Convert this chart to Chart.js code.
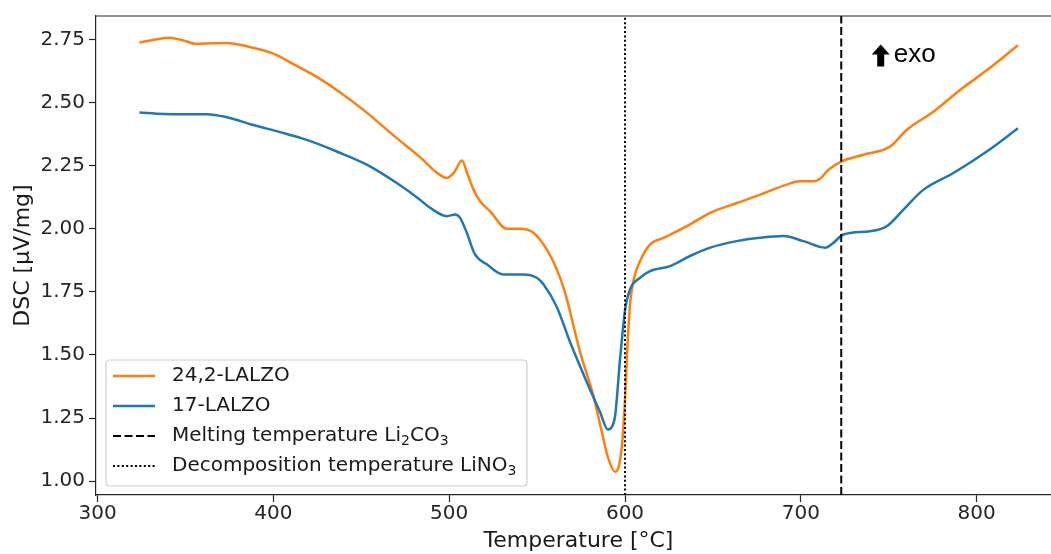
<!DOCTYPE html>
<html><head><meta charset="utf-8">
<script src="https://cdn.jsdelivr.net/npm/chart.js@4.4.0/dist/chart.umd.min.js"></script>
<style>
html,body{margin:0;padding:0;overflow:hidden;background:#fff;width:1051px;height:554px}
#wrap{position:absolute;left:0;top:0;width:1062px;height:554px}
</style>
</head><body><div id="wrap"><canvas id="c" width="1062" height="554"></canvas></div>
<script>
// ---- data ----
const tempOrange = [323.8,330,340.7,348,356.4,365,373.5,384.9,400,412,424.7,438,451.2,470.2,483.4,492,498.6,503,507.2,510.5,513.8,517.6,523.3,532.8,540.3,547.9,555.5,561.2,565.9,574.5,582,586.8,590.5,594.4,596.5,598.5,600.2,601.5,603,605,608.6,614.3,621.9,635.2,648.4,663.6,676.9,692,699.6,707.2,711,715.7,723.3,735.6,750.8,760.3,775.4,790.6,805.8,823.5];
const dscOrange  = [2.738,2.746,2.757,2.748,2.732,2.735,2.736,2.723,2.694,2.650,2.602,2.540,2.471,2.359,2.284,2.228,2.201,2.225,2.270,2.215,2.155,2.109,2.069,2.000,2.000,1.984,1.918,1.839,1.747,1.510,1.339,1.195,1.090,1.037,1.060,1.160,1.350,1.550,1.710,1.800,1.872,1.938,1.964,2.010,2.063,2.102,2.135,2.175,2.188,2.188,2.198,2.234,2.267,2.293,2.326,2.392,2.464,2.550,2.628,2.727];
const tempBlue = [323.8,337.4,350,362.1,373.5,388.6,403.8,419,436.1,453.1,470.2,483.4,489.1,498.6,503.4,506.2,510,514.7,521.4,530.8,542.2,549.8,553.6,561.2,568.8,578.3,585.8,590.2,592.5,594.4,597.2,600.1,602.9,608.6,614.3,625.7,637,648.4,663.6,676.9,690.1,701.5,713.8,718.5,724.2,739.4,748.9,758.4,769.8,786.8,805.8,823.5];
const dscBlue  = [2.461,2.455,2.454,2.454,2.442,2.411,2.383,2.352,2.306,2.254,2.181,2.115,2.083,2.050,2.056,2.043,1.984,1.898,1.859,1.819,1.819,1.806,1.780,1.690,1.550,1.392,1.274,1.205,1.215,1.260,1.484,1.681,1.760,1.806,1.832,1.852,1.892,1.925,1.951,1.964,1.971,1.951,1.925,1.944,1.977,1.990,2.010,2.076,2.155,2.221,2.306,2.398];
const seriesNames = ['24,2-LALZO','17-LALZO'];
const meltingTempLi2CO3 = 723;
const decompTempLiNO3 = 600;
const xTicks = [300,400,500,600,700,800];
const yTicks = [1.00,1.25,1.50,1.75,2.00,2.25,2.50,2.75];
const xRange = [299.1, 848];
const yRange = [0.945, 2.843];

const ORANGE = '#ff7f0e', BLUE = '#1f77b4';
const toXY = (xs, ys) => xs.map((x, i) => ({x, y: ys[i]}));
const FONT = 'DejaVu Sans';

const decoPlugin = {
  id: 'deco',
  afterDraw(chart) {
    const {ctx, chartArea: a} = chart;
    ctx.save();
    // top and right spines
    ctx.strokeStyle = '#262626'; ctx.lineWidth = 1.2;
    ctx.beginPath();
    ctx.moveTo(a.left, a.top); ctx.lineTo(a.right, a.top); ctx.lineTo(a.right, a.bottom);
    ctx.stroke();

    // exo annotation (arrow + text)
    const xs = chart.scales.x, ys = chart.scales.y;
    const ax = xs.getPixelForValue(750) - 8, ay = ys.getPixelForValue(2.75) + 15;
    ctx.fillStyle = '#000';
    ctx.beginPath();
    ctx.moveTo(ax, ay - 10);
    ctx.lineTo(ax + 9, ay);
    ctx.lineTo(ax + 3.5, ay);
    ctx.lineTo(ax + 3.5, ay + 12);
    ctx.lineTo(ax - 3.5, ay + 12);
    ctx.lineTo(ax - 3.5, ay);
    ctx.lineTo(ax - 9, ay);
    ctx.closePath(); ctx.fill();
    ctx.font = '26px "Liberation Sans", Arial, sans-serif';
    ctx.textBaseline = 'alphabetic'; ctx.textAlign = 'left';
    ctx.fillText('exo', ax + 13, ay + 8);

    // legend
    const bx = a.left + 10, bw = 421, bh = 126, by = a.bottom - 9 - bh;
    const r = 4;
    ctx.beginPath();
    ctx.moveTo(bx + r, by); ctx.lineTo(bx + bw - r, by); ctx.quadraticCurveTo(bx + bw, by, bx + bw, by + r);
    ctx.lineTo(bx + bw, by + bh - r); ctx.quadraticCurveTo(bx + bw, by + bh, bx + bw - r, by + bh);
    ctx.lineTo(bx + r, by + bh); ctx.quadraticCurveTo(bx, by + bh, bx, by + bh - r);
    ctx.lineTo(bx, by + r); ctx.quadraticCurveTo(bx, by, bx + r, by);
    ctx.closePath();
    ctx.fillStyle = 'rgba(255,255,255,0.8)'; ctx.fill();
    ctx.strokeStyle = '#d0d0d0'; ctx.lineWidth = 1.2; ctx.stroke();

    const items = [
      {color: ORANGE, dash: [], w: 2.5, parts: [[seriesNames[0], false]]},
      {color: BLUE, dash: [], w: 2.5, parts: [[seriesNames[1], false]]},
      {color: '#000', dash: [8, 3.5], w: 2, parts: [['Melting temperature Li', false], ['2', true], ['CO', false], ['3', true]]},
      {color: '#000', dash: [2, 2.4], w: 2, parts: [['Decomposition temperature LiNO', false], ['3', true]]}
    ];
    items.forEach((it, i) => {
      const y = by + 16 + i * 30;
      ctx.strokeStyle = it.color; ctx.lineWidth = it.w; ctx.setLineDash(it.dash);
      ctx.beginPath(); ctx.moveTo(bx + 7, y); ctx.lineTo(bx + 49, y); ctx.stroke();
      ctx.setLineDash([]);
      let tx = bx + 66;
      ctx.fillStyle = '#1a1a1a'; ctx.textBaseline = 'middle'; ctx.textAlign = 'left';
      it.parts.forEach(([t, sub]) => {
        ctx.font = (sub ? '14px ' : '20px ') + '"' + FONT + '"';
        ctx.fillText(t, tx, sub ? y + 5 : y);
        tx += ctx.measureText(t).width;
      });
    });
    ctx.restore();
  }
};

new Chart(document.getElementById('c'), {
  type: 'line',
  data: {
    datasets: [
      {label: 'Decomposition temperature LiNO3', data: [{x: decompTempLiNO3, y: yRange[0]}, {x: decompTempLiNO3, y: yRange[1]}],
       borderColor: '#000', borderWidth: 2, borderDash: [2, 2.4], pointRadius: 0, order: 0},
      {label: 'Melting temperature Li2CO3', data: [{x: meltingTempLi2CO3, y: yRange[0]}, {x: meltingTempLi2CO3, y: yRange[1]}],
       borderColor: '#000', borderWidth: 2, borderDash: [8, 3.5], pointRadius: 0, order: 1},
      {label: seriesNames[1], data: toXY(tempBlue, dscBlue), borderColor: BLUE, borderWidth: 2.5,
       pointRadius: 0, cubicInterpolationMode: 'monotone', order: 2},
      {label: seriesNames[0], data: toXY(tempOrange, dscOrange), borderColor: ORANGE, borderWidth: 2.5,
       pointRadius: 0, cubicInterpolationMode: 'monotone', order: 3}
    ]
  },
  options: {
    responsive: false, animation: false, devicePixelRatio: 1,
    layout: {padding: {top: 16, right: 1, left: 0, bottom: 0}},
    plugins: {legend: {display: false}, tooltip: {enabled: false}},
    scales: {
      x: {
        type: 'linear', min: xRange[0], max: xRange[1],
        afterBuildTicks: s => { s.ticks = xTicks.map(v => ({value: v})); },
        afterFit: s => { s.height = 59; },
        grid: {drawOnChartArea: false, tickLength: 7, tickColor: '#262626', tickWidth: 1.2},
        border: {color: '#262626', width: 1.2},
        ticks: {color: '#262626', font: {family: FONT, size: 20}, padding: 0, maxRotation: 0,
                callback: v => String(v)},
        title: {display: true, text: 'Temperature [°C]', color: '#1a1a1a',
                font: {family: FONT, size: 22}, padding: {top: 0, bottom: 0}}
      },
      y: {
        type: 'linear', min: yRange[0], max: yRange[1],
        afterBuildTicks: s => { s.ticks = yTicks.map(v => ({value: v})); },
        afterFit: s => { s.width = 96; },
        grid: {drawOnChartArea: false, tickLength: 7, tickColor: '#262626', tickWidth: 1.2},
        border: {color: '#262626', width: 1.2},
        ticks: {color: '#262626', font: {family: FONT, size: 20}, padding: 4,
                callback: v => Number(v).toFixed(2)},
        title: {display: true, text: 'DSC [µV/mg]', color: '#1a1a1a',
                font: {family: FONT, size: 22}, padding: {top: 10, bottom: 0}}
      }
    }
  },
  plugins: [decoPlugin]
});
</script>
</body></html>
